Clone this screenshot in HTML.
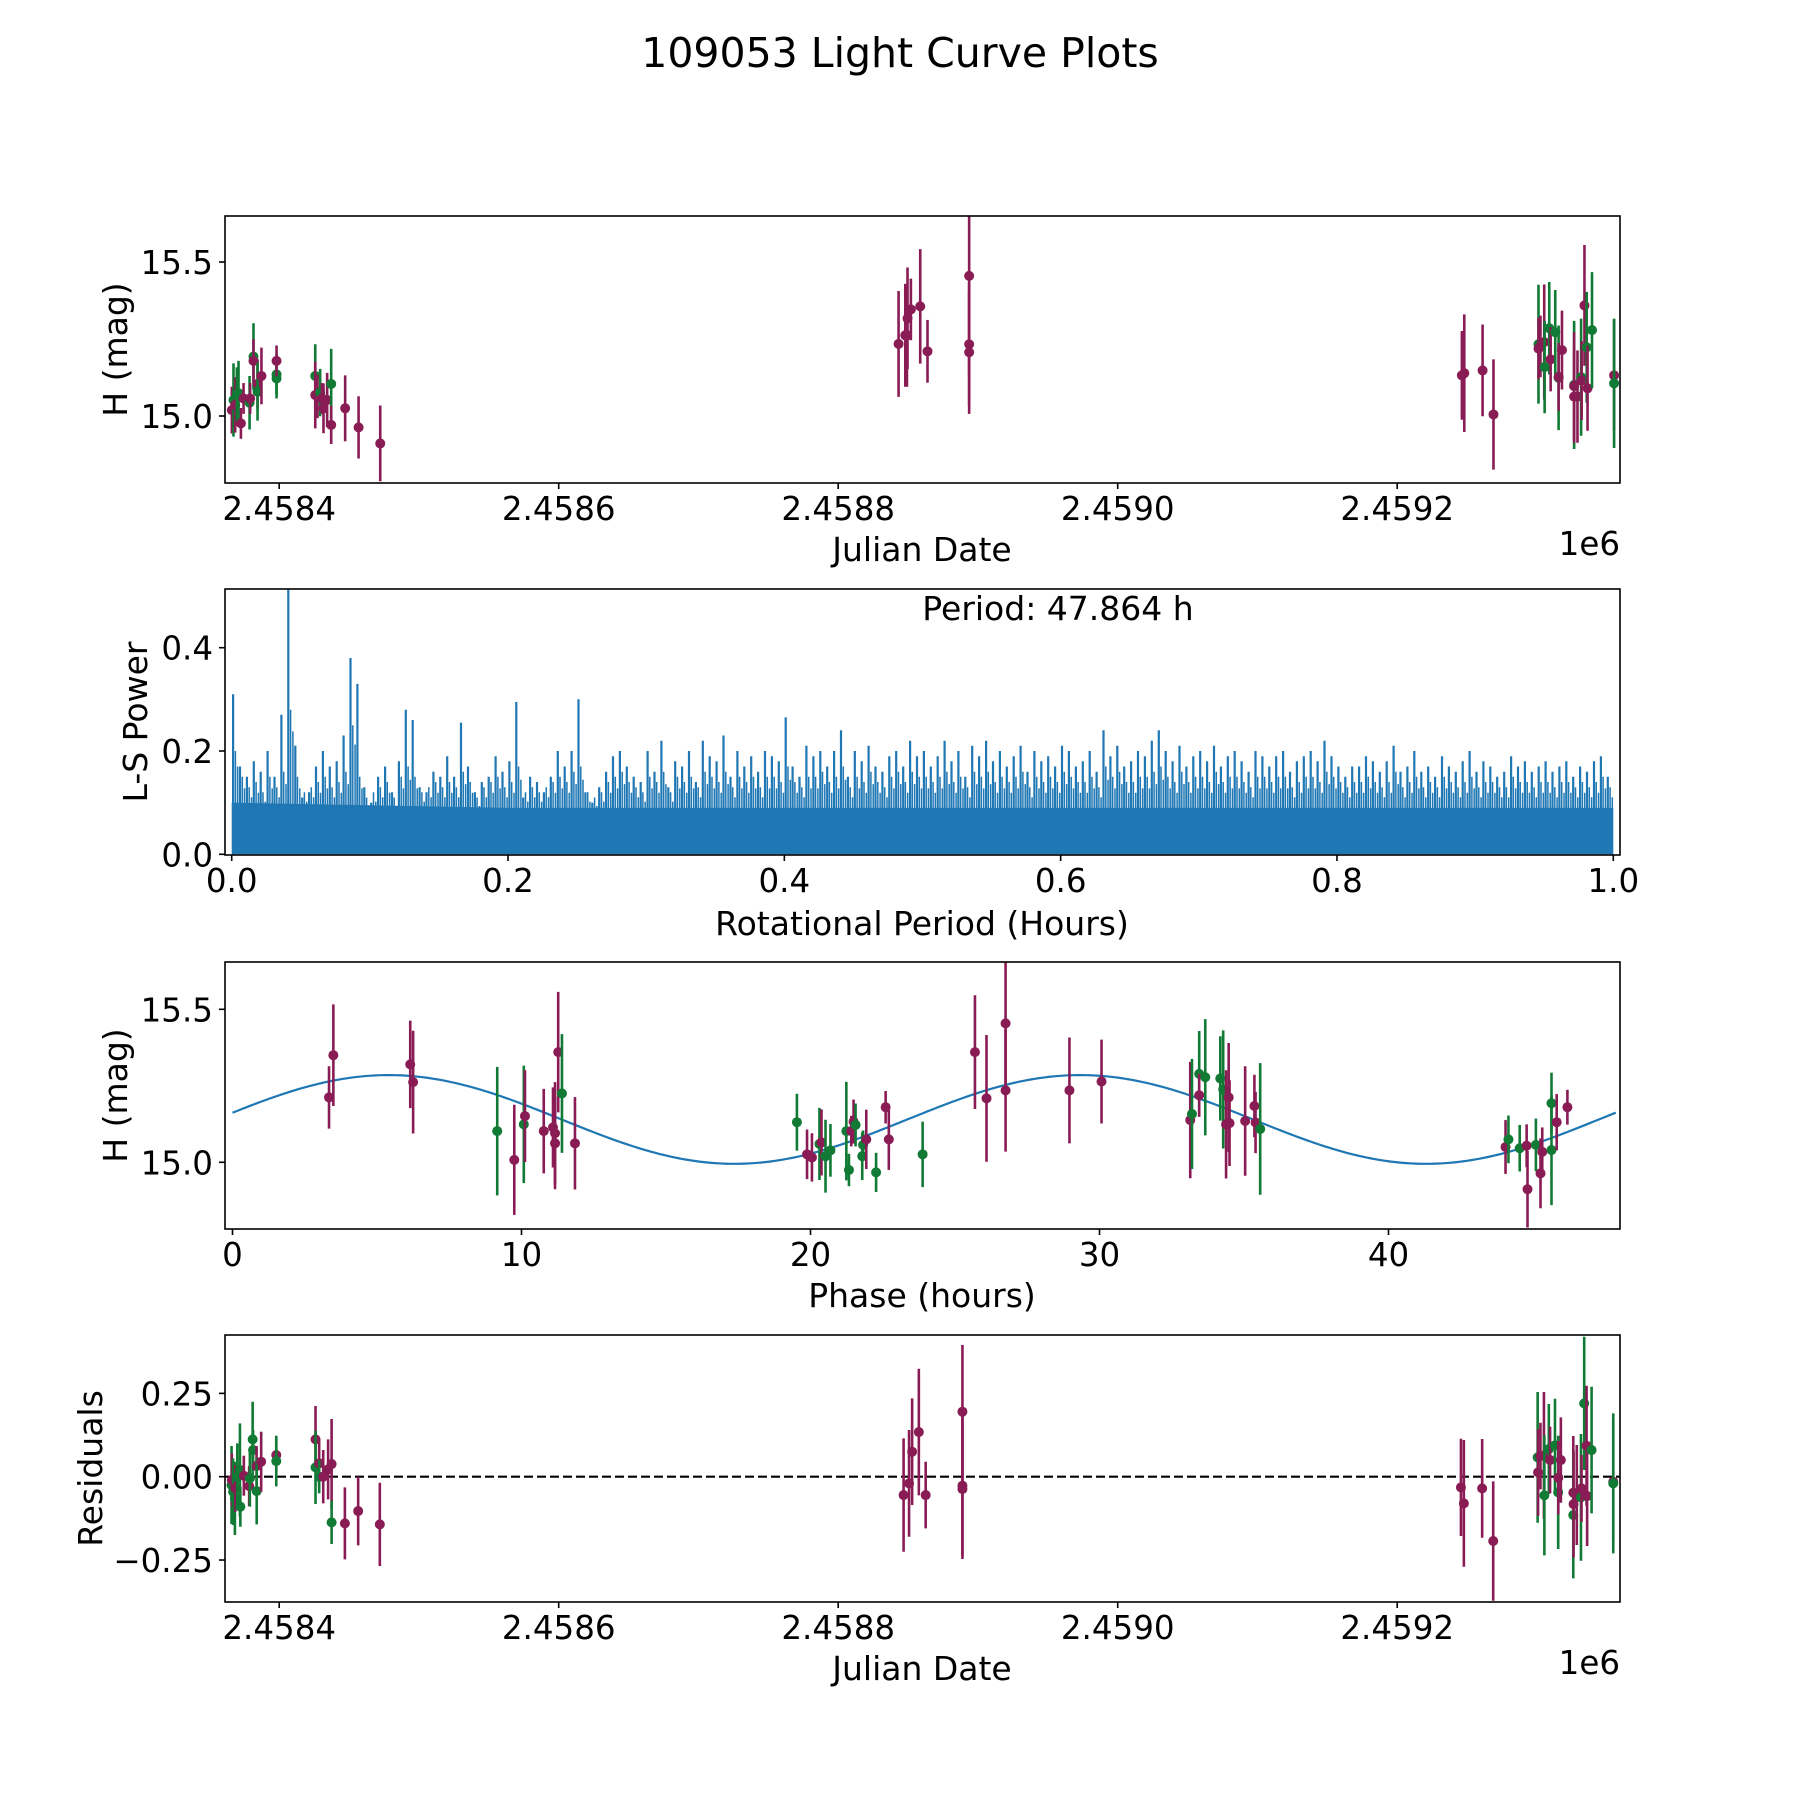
<!DOCTYPE html>
<html><head><meta charset="utf-8"><title>109053 Light Curve Plots</title>
<style>
html,body{margin:0;padding:0;background:#fff;}
svg{display:block;font-family:"DejaVu Sans","Liberation Sans",sans-serif;}
</style></head>
<body>
<svg id="fig" width="1800" height="1800" viewBox="0 0 1800 1800" xmlns="http://www.w3.org/2000/svg">
<rect x="0" y="0" width="1800" height="1800" fill="#fff"/>
<text x="900" y="67" font-size="41" text-anchor="middle">109053 Light Curve Plots</text>
</svg>
<script>
// ---------- DATA ----------
const lcDays = [366.1,367.3,368.5,369.7,370.9,372.6,374.5,378.8,379.2,381.6,381.6,384.5,384.5,387.3,398.1,398.1,398.1,425.8,425.8,427.4,429.3,430.6,431.7,434.3,437.2,437.2,447.2,456.8,472.3,
 843.2,848.0,849.2,849.6,852.0,858.7,863.9,893.7,893.7,893.7,
 1246.3,1248.0,1261.1,1268.9,1301.1,1301.1,1302.5,1305.2,1305.5,1308.8,1309.8,1313.1,1315.5,1315.5,1317.9,1326.6,1326.6,1326.6,1329.0,1331.6,1332.0,1334.0,1335.6,1336.2,1339.4,1355.2,1355.2];
const lcMag = [15.019,15.052,15.036,15.068,15.074,14.976,15.057,15.043,15.057,15.193,15.179,15.104,15.079,15.130,15.135,15.122,15.179,15.130,15.068,15.063,15.076,15.057,15.025,15.052,15.104,14.971,15.025,14.963,14.911,
 15.234,15.262,15.262,15.317,15.346,15.356,15.210,15.455,15.233,15.207,
 15.132,15.139,15.148,15.005,15.233,15.219,15.226,15.240,15.159,15.285,15.184,15.272,15.124,15.127,15.214,15.101,15.097,15.063,15.063,15.126,15.115,15.359,15.223,15.090,15.279,15.132,15.106];
const lcErr = [0.076,0.119,0.09,0.09,0.105,0.05,0.05,0.087,0.05,0.108,0.07,0.08,0.094,0.092,0.065,0.065,0.05,0.103,0.108,0.07,0.077,0.05,0.081,0.088,0.114,0.062,0.107,0.101,0.123,
 0.172,0.167,0.167,0.165,0.1,0.186,0.102,0.323,0.2,0.2,
 0.144,0.191,0.149,0.179,0.193,0.1,0.1,0.187,0.15,0.15,0.104,0.137,0.17,0.11,0.128,0.208,0.175,0.15,0.15,0.19,0.128,0.196,0.18,0.138,0.188,0.18,0.21];
const lcFilt = "mgmggmmgmgmmgmggmgmmgmmmgmmmm"+"mmmmmmmmmm"+"mmmmgmmmggmggmmgmmmgmmgmgmg";

const lsPeaks = [0.31,0.17,0.15,0.18,0.16,0.2,0.15,0.27,0.515,0.21,
 0.11,0.12,0.17,0.2,0.17,0.18,0.23,0.38,0.33,0.13,
 0.1,0.15,0.17,0.12,0.18,0.28,0.26,0.13,0.12,0.16,
 0.15,0.19,0.15,0.255,0.17,0.12,0.14,0.15,0.19,0.16,
 0.18,0.295,0.11,0.15,0.14,0.12,0.15,0.2,0.17,0.2,
 0.3,0.12,0.1,0.13,0.16,0.19,0.2,0.17,0.15,0.14,
 0.2,0.16,0.22,0.13,0.18,0.17,0.2,0.14,0.22,0.19,
 0.18,0.23,0.15,0.2,0.17,0.19,0.16,0.2,0.19,0.18,
 0.265,0.17,0.15,0.21,0.19,0.2,0.17,0.2,0.24,0.15,
 0.2,0.18,0.21,0.17,0.16,0.19,0.2,0.17,0.22,0.19,
 0.2,0.17,0.19,0.22,0.18,0.2,0.15,0.21,0.19,0.22,
 0.18,0.2,0.17,0.19,0.21,0.16,0.2,0.18,0.19,0.17,
 0.21,0.2,0.17,0.18,0.2,0.16,0.24,0.19,0.21,0.17,
 0.18,0.2,0.19,0.22,0.24,0.2,0.18,0.21,0.17,0.19,
 0.2,0.18,0.21,0.17,0.19,0.2,0.18,0.16,0.2,0.19,
 0.17,0.19,0.2,0.16,0.18,0.19,0.2,0.18,0.22,0.19,
 0.17,0.15,0.17,0.17,0.19,0.18,0.16,0.18,0.21,0.16,
 0.17,0.2,0.16,0.17,0.15,0.19,0.17,0.16,0.18,0.2,
 0.16,0.18,0.17,0.15,0.16,0.19,0.17,0.18,0.16,0.17,
 0.18,0.16,0.17,0.18,0.15,0.17,0.16,0.18,0.19,0.15];
const lsMinor = [0.2,0.15,0.13,0.14,0.12,0.15,0.13,0.16,0.28,0.15,
 0.12,0.13,0.14,0.15,0.13,0.14,0.16,0.25,0.15,0.11,
 0.12,0.13,0.14,0.11,0.15,0.17,0.15,0.12,0.13,0.14,
 0.13,0.14,0.13,0.16,0.14,0.11,0.13,0.14,0.15,0.13,
 0.14,0.17,0.12,0.13,0.12,0.13,0.14,0.15,0.14,0.16,
 0.17,0.12,0.11,0.12,0.14,0.15,0.16,0.14,0.13,0.12,
 0.15,0.14,0.16,0.12,0.15,0.14,0.15,0.13,0.16,0.15,
 0.14,0.16,0.13,0.15,0.14,0.15,0.13,0.15,0.15,0.14,
 0.17,0.14,0.13,0.15,0.15,0.16,0.14,0.15,0.17,0.13,
 0.15,0.14,0.16,0.14,0.13,0.15,0.16,0.14,0.16,0.15,
 0.15,0.14,0.15,0.16,0.14,0.15,0.13,0.16,0.15,0.16,
 0.14,0.15,0.14,0.15,0.16,0.13,0.15,0.14,0.15,0.14,
 0.16,0.15,0.14,0.14,0.15,0.13,0.17,0.15,0.16,0.14,
 0.14,0.15,0.15,0.16,0.17,0.15,0.14,0.16,0.14,0.15,
 0.15,0.14,0.16,0.14,0.15,0.15,0.14,0.13,0.15,0.15,
 0.14,0.15,0.15,0.13,0.14,0.15,0.15,0.14,0.16,0.15,
 0.14,0.13,0.14,0.14,0.15,0.14,0.13,0.14,0.16,0.13,
 0.14,0.15,0.13,0.14,0.13,0.15,0.14,0.13,0.14,0.15,
 0.13,0.14,0.14,0.13,0.13,0.15,0.14,0.14,0.13,0.14,
 0.14,0.13,0.14,0.14,0.13,0.14,0.13,0.14,0.15,0.13];
const lsFloor = [0.1,0.095,0.09,0.09,0.09,0.09,0.09,0.09,0.09,0.09,0.09];
const periodText = "Period: 47.864 h";

const phHours = [3.34,3.49,6.15,6.25,9.16,9.75,10.08,10.12,10.77,11.09,11.16,11.16,11.27,11.40,11.85,
 19.53,19.88,20.05,20.31,20.38,20.52,20.69,21.24,21.33,21.41,21.49,21.56,21.79,21.82,21.93,22.27,22.60,22.71,23.88,25.69,26.09,26.75,26.75,28.96,30.07,
 33.14,33.20,33.45,33.45,33.66,34.18,34.28,34.38,34.47,34.50,35.04,35.36,35.40,35.56,
 44.05,44.15,44.54,44.78,44.81,45.10,45.26,45.32,45.64,45.64,45.82,46.19];
const phMag = [15.212,15.350,15.320,15.262,15.102,15.008,15.124,15.151,15.102,15.114,15.095,15.062,15.360,15.225,15.062,
 15.131,15.026,15.016,15.060,15.065,15.020,15.039,15.102,14.975,15.102,15.133,15.122,15.020,15.057,15.075,14.967,15.180,15.075,15.026,15.360,15.209,15.454,15.235,15.235,15.264,
 15.138,15.158,15.289,15.219,15.278,15.274,15.238,15.124,15.212,15.128,15.135,15.184,15.130,15.109,
 15.050,15.075,15.046,15.054,14.912,15.057,14.964,15.034,15.040,15.193,15.131,15.180];
const phErr = [0.102,0.166,0.143,0.168,0.21,0.18,0.192,0.15,0.138,0.131,0.167,0.15,0.197,0.194,0.151,
 0.093,0.081,0.079,0.118,0.108,0.119,0.086,0.161,0.053,0.05,0.072,0.07,0.078,0.047,0.097,0.064,0.053,0.1,0.107,0.186,0.207,0.2,0.2,0.173,0.137,
 0.19,0.18,0.14,0.07,0.19,0.138,0.193,0.177,0.178,0.14,0.179,0.102,0.1,0.215,
 0.088,0.078,0.076,0.07,0.125,0.086,0.114,0.08,0.18,0.1,0.092,0.057];
const phFilt = "mmmmgmgmmmmmmgm"+"gmmgmggggmmgggmgmmgmmmmmm"+"mggmgggmmmmmmg"+"mggmmgmmggmm";
const modelMean = 15.14, modelAmp = 0.145, modelHalfPeriod = 23.93, modelShift = -0.58, modelSpan = 47.864;

const resDays = [365.9,366.1,367.0,368.3,368.6,370.0,371.9,372.2,374.7,378.5,379.0,381.0,381.3,383.8,383.9,387.1,397.9,397.9,426.0,426.0,428.6,428.6,431.5,435.0,437.5,437.5,447.0,456.5,472.0,
 846.8,850.7,852.9,857.7,862.6,888.9,888.9,888.9,
 1245.6,1247.7,1260.8,1268.7,1300.5,1300.8,1302.5,1305.0,1305.3,1308.5,1309.4,1312.9,1315.2,1315.3,1317.1,1326.0,1326.0,1326.2,1328.5,1331.5,1331.9,1333.8,1335.5,1335.9,1339.1,1354.6,1354.6];
const resVal = [-0.025,-0.01,-0.045,-0.065,-0.035,0.0,0.02,-0.09,0.003,-0.028,-0.005,0.112,0.08,0.032,-0.043,0.045,0.065,0.047,0.112,0.028,0.04,0.0,0.0,0.022,0.038,-0.137,-0.14,-0.103,-0.143,
 -0.055,-0.02,0.075,0.134,-0.055,0.195,-0.027,-0.037,
 -0.032,-0.08,-0.035,-0.193,0.058,0.013,0.062,0.064,-0.056,0.083,0.05,0.094,-0.047,-0.003,0.05,-0.048,-0.115,-0.082,-0.055,-0.062,-0.035,0.22,0.093,-0.058,0.08,-0.015,-0.02];
const resErr = [0.117,0.08,0.1,0.11,0.07,0.1,0.14,0.06,0.06,0.06,0.085,0.113,0.06,0.06,0.1,0.09,0.05,0.076,0.1,0.11,0.07,0.05,0.08,0.09,0.135,0.065,0.108,0.103,0.125,
 0.17,0.16,0.16,0.19,0.1,0.2,0.21,0.21,
 0.146,0.19,0.148,0.179,0.196,0.13,0.1,0.19,0.18,0.135,0.1,0.14,0.17,0.11,0.128,0.17,0.19,0.16,0.15,0.19,0.1,0.2,0.18,0.15,0.19,0.18,0.21];
const resFilt = "gmggmgggmmgggmgmmgmgmgmmmgmmmm".slice(0,29)+"mmmmmmmm".slice(0,8)+"mmmmgmmmggmggmmmgmmgmgmmgmg".slice(0,27);

const jdTickDays = [400,600,800,1000,1200];
const jdTickLabels = ["2.4584","2.4586","2.4588","2.4590","2.4592"];
const magTicks = [15.0,15.5];
const magTickLabels = ["15.0","15.5"];
const lsXTicks = [0,0.2,0.4,0.6,0.8,1.0];
const lsXTickLabels = ["0.0","0.2","0.4","0.6","0.8","1.0"];
const lsYTicks = [0,0.2,0.4];
const lsYTickLabels = ["0.0","0.2","0.4"];
const phTicks = [0,10,20,30,40];
const phTickLabels = ["0","10","20","30","40"];
const resTicks = [0.25,0,-0.25];
const resTickLabels = ["0.25","0.00","\u22120.25"];

// ---------- RENDER ----------
const NS = "http://www.w3.org/2000/svg";
const svg = document.getElementById("fig");
const COL = {m:"#8a1c55", g:"#117a34"};
const L = 225, R = 1620;
const TF = 32.5;
const P1 = {t:216, b:483}, P2 = {t:589, b:855}, P3 = {t:962, b:1229}, P4 = {t:1335, b:1602};

function el(tag, attrs, parent){
  const e = document.createElementNS(NS, tag);
  for (const k in attrs) e.setAttribute(k, attrs[k]);
  (parent || svg).appendChild(e);
  return e;
}
const xJD = d => 279.2 + (d - 400) * 1.3975;
const yMag1 = m => 416 - (m - 15) * 308;
const yMag3 = m => 1162.3 - (m - 15) * 306;
const xLS = f => 231.7 + f * 1381.6;
const yLS = p => 854.3 - p * 516.5;
const xPh = h => 232.5 + h * 28.9;
const yRes = r => 1476.7 - r * 333.3;

function frame(P, name){
  const r = el("rect", {x:L, y:P.t, width:R-L, height:P.b-P.t, fill:"none", stroke:"#000", "stroke-width":1.6});
  
  
}
function xticks(P, vals, labels, fx, name){
  const g = el("g", {});
  
  
  vals.forEach((v,i)=>{
    const x = fx(v);
    el("line", {x1:x, x2:x, y1:P.b, y2:P.b+6, stroke:"#000", "stroke-width":1.6}, g);
    const t = el("text", {x:x, y:P.b+37, "font-size":TF, "text-anchor":"middle"}, g);
    t.textContent = labels[i];
  });
}
function yticks(P, vals, labels, fy, name){
  const g = el("g", {});
  
  
  vals.forEach((v,i)=>{
    const y = fy(v);
    el("line", {x1:L-6, x2:L, y1:y, y2:y, stroke:"#000", "stroke-width":1.6}, g);
    const t = el("text", {x:L-12, y:y+12, "font-size":TF, "text-anchor":"end"}, g);
    t.textContent = labels[i];
  });
}
function label(x, y, txt, rot, name){
  const t = el("text", {x:x, y:y, "font-size":33, "text-anchor":"middle"});
  if (rot) t.setAttribute("transform", "rotate(-90 "+x+" "+y+")");
  t.textContent = txt;
  
  
}
function clip(id, P){
  const cp = el("clipPath", {id:id});
  el("rect", {x:L, y:P.t, width:R-L, height:P.b-P.t}, cp);
}
function errPoints(xs, ys, es, fl, fx, fy, clipId, name){
  const g = el("g", {"clip-path":"url(#"+clipId+")"});
  
  
  xs.forEach((xv,i)=>{
    const c = COL[fl[i]] || COL.m;
    const x = fx(xv);
    const ln = el("line", {x1:x, x2:x, y1:fy(ys[i]+es[i]), y2:fy(ys[i]-es[i]), stroke:c, "stroke-width":2.6}, g);
    
    
    const d = el("circle", {cx:x, cy:fy(ys[i]), r:5, fill:c}, g);
    
    
  });
}

clip("c1", P1); clip("c2", P2); clip("c3", P3); clip("c4", P4);
errPoints(lcDays, lcMag, lcErr, lcFilt, xJD, yMag1, "c1", "lightcurve-points");
frame(P1, "lightcurve-axes");
xticks(P1, jdTickDays, jdTickLabels, xJD, "lightcurve-x-ticks");
yticks(P1, magTicks, magTickLabels, yMag1, "lightcurve-y-ticks");
label(922, 561, "Julian Date", false, "lightcurve-x-title");
label(127, (P1.t+P1.b)/2, "H (mag)", true, "lightcurve-y-title");
let off1 = el("text", {x:R, y:P1.b+72, "font-size":TF, "text-anchor":"end"});
off1.textContent = "1e6";



// Panel 2 periodogram
const g2 = el("g", {"clip-path":"url(#c2)"});


let fpts = [xLS(0)+","+yLS(0)];
lsFloor.forEach((v,i)=>{ fpts.push(xLS(i/(lsFloor.length-1))+","+yLS(v)); });
fpts.push(xLS(1)+","+yLS(0));
const floorPoly = el("polygon", {points:fpts.join(" "), fill:"#1f77b4"}, g2);


const step = 0.995/(lsPeaks.length-1);
let dpath = "", mpath = "";
lsPeaks.forEach((v,i)=>{
  const x = xLS(0.001 + i*step);
  dpath += "M"+x.toFixed(1)+","+yLS(0.08).toFixed(1)+"L"+x.toFixed(1)+","+yLS(v).toFixed(1);
});
lsMinor.forEach((v,i)=>{
  const x1 = xLS(0.001 + (i+0.33)*step), x2 = xLS(0.001 + (i+0.66)*step);
  mpath += "M"+x1.toFixed(1)+","+yLS(0.08).toFixed(1)+"L"+x1.toFixed(1)+","+yLS(v).toFixed(1);
  mpath += "M"+x2.toFixed(1)+","+yLS(0.08).toFixed(1)+"L"+x2.toFixed(1)+","+yLS(v*0.85).toFixed(1);
});
const mspk = el("path", {d:mpath, fill:"none", stroke:"#1f77b4", "stroke-width":1.5}, g2);


const spk = el("path", {d:dpath, fill:"none", stroke:"#1f77b4", "stroke-width":2.2}, g2);


frame(P2, "periodogram-axes");
xticks(P2, lsXTicks, lsXTickLabels, xLS, "periodogram-x-ticks");
yticks(P2, lsYTicks, lsYTickLabels, yLS, "periodogram-y-ticks");
label(922, P2.b+80, "Rotational Period (Hours)", false, "periodogram-x-title");
label(147, (P2.t+P2.b)/2, "L-S Power", true, "periodogram-y-title");
let pt = el("text", {x:1058, y:620, "font-size":33, "text-anchor":"middle"});
pt.textContent = periodText;



// Panel 3
let mp = "";
for (let k=0; k<=400; k++){
  const h = modelSpan*k/400;
  const m = modelMean + modelAmp*Math.sin(2*Math.PI*(h - modelShift)/modelHalfPeriod);
  mp += (k?"L":"M") + xPh(h).toFixed(2) + "," + yMag3(m).toFixed(2);
}
const mline = el("path", {d:mp, fill:"none", stroke:"#1f77b4", "stroke-width":2.2, "clip-path":"url(#c3)"});


errPoints(phHours, phMag, phErr, phFilt, xPh, yMag3, "c3", "phase-points");
frame(P3, "phase-axes");
xticks(P3, phTicks, phTickLabels, xPh, "phase-x-ticks");
yticks(P3, magTicks, magTickLabels, yMag3, "phase-y-ticks");
label(922, P3.b+78, "Phase (hours)", false, "phase-x-title");
label(127, (P3.t+P3.b)/2, "H (mag)", true, "phase-y-title");

// Panel 4
const zl = el("line", {x1:L, x2:R, y1:yRes(0), y2:yRes(0), stroke:"#000", "stroke-width":2.2, "stroke-dasharray":"9,4"});


errPoints(resDays, resVal, resErr, resFilt, xJD, yRes, "c4", "residual-points");
frame(P4, "residuals-axes");
xticks(P4, jdTickDays, jdTickLabels, xJD, "residuals-x-ticks");
yticks(P4, resTicks, resTickLabels, yRes, "residuals-y-ticks");
label(922, P4.b+78, "Julian Date", false, "residuals-x-title");
label(102, (P4.t+P4.b)/2, "Residuals", true, "residuals-y-title");
let off4 = el("text", {x:R, y:P4.b+72, "font-size":TF, "text-anchor":"end"});
off4.textContent = "1e6";


</script>
</body></html>
